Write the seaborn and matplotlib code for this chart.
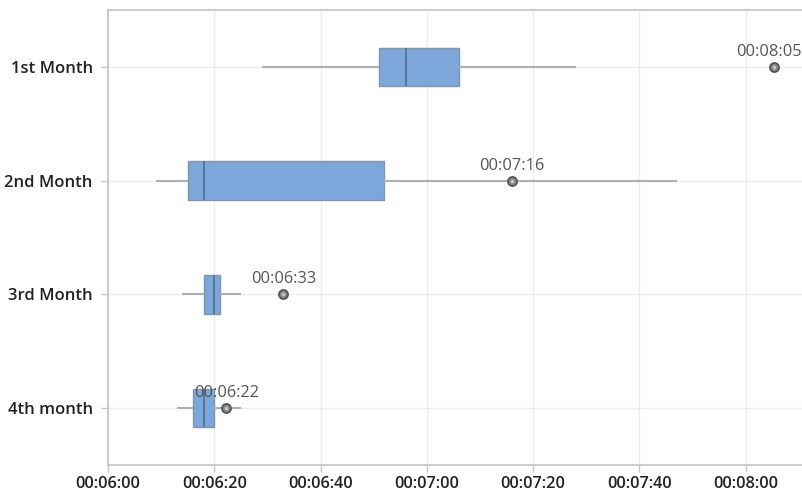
import matplotlib
matplotlib.use("Agg")
import matplotlib.pyplot as plt
from matplotlib.ticker import FuncFormatter, MultipleLocator
import seaborn as sns
import pandas as pd

# Data (seconds)
categories = ["1st Month", "2nd Month", "3rd Month", "4th month"]
whisker_low = [389, 369, 374, 373]
q1 = [411, 375, 378, 376]
median = [416, 378, 380, 378]
q3 = [426, 412, 381, 380]
whisker_high = [448, 467, 385, 385]
point_vals = [485.4, 436, 393, 382.3]

rows = []
for i, c in enumerate(categories):
    for v in (whisker_low[i], q1[i], median[i], q3[i], whisker_high[i]):
        rows.append({"month": c, "secs": v})
df = pd.DataFrame(rows)
pts = pd.DataFrame({"month": categories, "secs": point_vals})

sns.set_theme(style="white")
plt.rcParams["font.family"] = ["Open Sans", "DejaVu Sans"]

fig = plt.figure(figsize=(8.03, 4.94), dpi=100)
ax = fig.add_axes([108 / 803, 1 - 465 / 494, 1 - 108 / 803, (465 - 10) / 494])

sns.boxplot(data=df, x="secs", y="month", order=categories, orient="h",
            whis=(0, 100), width=0.34, fliersize=0, ax=ax,
            boxprops=dict(facecolor="#7ba7db", edgecolor="#8096b0", linewidth=1.0),
            whiskerprops=dict(color="#b0b0b0", linewidth=1.5),
            capprops=dict(visible=False),
            medianprops=dict(color="#5a6f8c", linewidth=1.3))

sns.stripplot(data=pts, x="secs", y="month", order=categories, orient="h",
              jitter=False, size=6.5, color="#8a8a8a", edgecolor="#555555",
              linewidth=1.3, ax=ax, zorder=5)
sns.stripplot(data=pts, x="secs", y="month", order=categories, orient="h",
              jitter=False, size=2.5, color="#c8c8c8", linewidth=0, ax=ax,
              zorder=6)

def fmt(v, pos=None):
    v = int(round(v))
    return f"{v // 3600:02d}:{(v % 3600) // 60:02d}:{v % 60:02d}"

for i, v in enumerate(point_vals):
    dx = -4 if i == 0 else 0
    ax.annotate(fmt(v), (v, i), xytext=(dx, 5), textcoords="offset points",
                ha="center", va="bottom", fontsize=11.8, color="#555555", zorder=7)

ax.set_xlim(360, 490.8)
ax.set_ylim(3.5, -0.5)
ax.xaxis.set_major_locator(MultipleLocator(20))
ax.xaxis.set_major_formatter(FuncFormatter(fmt))
ax.set_xlabel("")
ax.set_ylabel("")

ax.grid(True, axis="both", color="#ececec", linewidth=1.0)
ax.set_axisbelow(True)
for s in ["left", "top", "bottom"]:
    ax.spines[s].set_visible(True)
    ax.spines[s].set_color("#c4c4c4")
    ax.spines[s].set_linewidth(1.2)
ax.spines["right"].set_visible(False)

ax.tick_params(axis="x", length=5, color="#c4c4c4", width=1, labelsize=11.7,
               labelcolor="#222222", pad=3, bottom=True)
ax.tick_params(axis="y", length=5, color="#c4c4c4", width=1, labelsize=12,
               labelcolor="#222222", pad=6, left=True)
for lab in ax.get_yticklabels() + ax.get_xticklabels():
    lab.set_fontweight("semibold")

fig.savefig("out.png", dpi=100)
